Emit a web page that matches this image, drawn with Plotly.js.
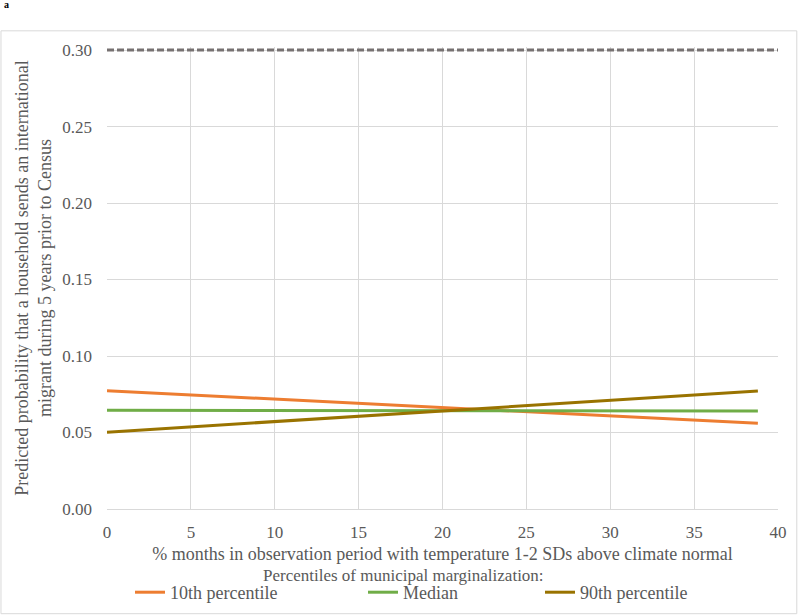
<!DOCTYPE html>
<html>
<head>
<meta charset="utf-8">
<script src="https://cdn.plot.ly/plotly-3.0.1.min.js"></script>
<style>html,body{margin:0;padding:0;background:#fff;}#chart{width:800px;height:616px;}</style>
</head>
<body>
<div id="chart"></div>
<script>
const xVals = [0, 5, 10, 15, 20, 25, 30, 35, 38.8];
const p10 = [0.0773, 0.0746, 0.0718, 0.0691, 0.0663, 0.0636, 0.0608, 0.0581, 0.0560];
const median = [0.0645, 0.0644, 0.0644, 0.0643, 0.0642, 0.0642, 0.0641, 0.0641, 0.0640];
const p90 = [0.0502, 0.0537, 0.0571, 0.0606, 0.0641, 0.0676, 0.0711, 0.0746, 0.0772];
const refX = [0, 40];
const refY = [0.30, 0.30];
const seriesNames = ['10th percentile', 'Median', '90th percentile'];
const legendTitle = 'Percentiles of municipal marginalization:';
const xTicks = [0, 5, 10, 15, 20, 25, 30, 35, 40];
const yTicks = [0, 0.05, 0.10, 0.15, 0.20, 0.25, 0.30];

const font = "'Liberation Serif', 'DejaVu Serif', serif";
const grey = '#595959';

const data = [
  {x: refX, y: refY, mode: 'lines', line: {color: '#767171', width: 3, dash: '7px,3px'}, showlegend: false, hoverinfo: 'skip'},
  {x: xVals, y: p10, name: seriesNames[0], mode: 'lines', line: {color: '#ED7D31', width: 3}, legend: 'legend'},
  {x: xVals, y: median, name: seriesNames[1], mode: 'lines', line: {color: '#70AD47', width: 3}, legend: 'legend2'},
  {x: xVals, y: p90, name: seriesNames[2], mode: 'lines', line: {color: '#997300', width: 3}, legend: 'legend3'}
];

function leg(xPx) {
  return {
    orientation: 'h', xref: 'container', yref: 'container',
    x: xPx / 800, xanchor: 'left', y: 1 - 574 / 616, yanchor: 'top',
    itemwidth: 30,
    font: {family: font, color: grey, size: 18},
    bgcolor: 'rgba(0,0,0,0)', borderwidth: 0
  };
}

// plot area: x 107..778 px, y(0)=509 px, y(0.30)=50 px
const layout = {
  width: 800, height: 616,
  margin: {l: 107, r: 22, t: 47, b: 107},
  paper_bgcolor: '#fff', plot_bgcolor: '#fff',
  font: {family: font, color: grey, size: 17},
  xaxis: {
    range: [0, 40], tickvals: xTicks, ticktext: xTicks.map(String),
    showgrid: true, gridcolor: '#d9d9d9', gridwidth: 1,
    zeroline: false, showline: false, ticks: '',
    ticklabelstandoff: 11,
    tickfont: {family: font, color: grey, size: 17},
    title: {text: '% months in observation period with temperature 1-2 SDs above climate normal', font: {family: font, color: grey, size: 18}, standoff: 6},
    automargin: false
  },
  yaxis: {
    range: [0, 0.302], tickvals: yTicks, ticktext: yTicks.map(v => v.toFixed(2)),
    showgrid: true, gridcolor: '#d9d9d9', gridwidth: 1,
    zeroline: true, zerolinecolor: '#d9d9d9', zerolinewidth: 1, showline: false, ticks: '',
    ticklabelstandoff: 14,
    tickfont: {family: font, color: grey, size: 17},
    title: {text: 'Predicted probability that a household sends an international<br>migrant during 5 years prior to Census', font: {family: font, color: grey, size: 18}, standoff: 5},
    automargin: false
  },
  showlegend: true,
  legend: leg(130),
  legend2: leg(363),
  legend3: leg(540),
  shapes: [
    {type: 'rect', xref: 'paper', yref: 'paper', x0: -0.158, x1: 1.028, y0: -0.2266, y1: 1.035, line: {color: '#d9d9d9', width: 1}, fillcolor: 'rgba(0,0,0,0)', layer: 'below'}
  ],
  annotations: [
    {text: '<b>a</b>', xref: 'paper', yref: 'paper', x: -0.157, y: 1.093, xanchor: 'left', yanchor: 'middle', showarrow: false, font: {family: font, color: '#000', size: 10}},
    {text: legendTitle, xref: 'paper', yref: 'paper', x: (403 - 107) / 671, y: (509 - 575) / 462, xanchor: 'center', yanchor: 'middle', showarrow: false, font: {family: font, color: grey, size: 17}}
  ]
};

Plotly.newPlot('chart', data, layout, {displayModeBar: false, staticPlot: true});
</script>
</body>
</html>
